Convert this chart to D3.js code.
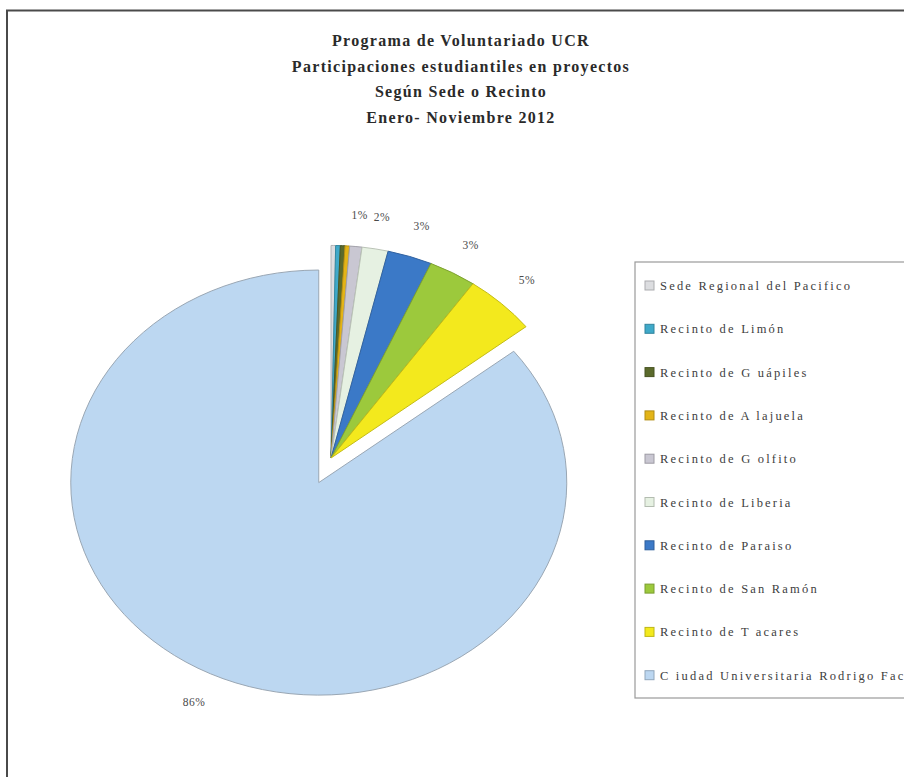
<!DOCTYPE html>
<html><head><meta charset="utf-8">
<script src="https://cdn.jsdelivr.net/npm/d3@7"></script>
<style>body{margin:0;background:#fff} svg{display:block}</style>
</head><body>
<svg id="chart" width="904" height="777"></svg>
<script>
const titleLines = ["Programa de Voluntariado UCR","Participaciones estudiantiles en proyectos","Según Sede o Recinto","Enero- Noviembre 2012"];
const categories = ["Sede Regional del Pacifico","Recinto de Limón","Recinto de G uápiles","Recinto de A lajuela","Recinto de G olfito","Recinto de Liberia","Recinto de Paraiso","Recinto de San Ramón","Recinto de T acares","C iudad Universitaria Rodrigo Facio"];
const values = [0.3, 0.3, 0.3, 0.3, 0.8, 1.7, 2.9, 3.1, 4.7, 85.6];
const colors = ["#dcdde0","#3fa9c9","#5b6a2c","#e3b417","#c9c7d2","#e6f1e2","#3b79c7","#9cc93c","#f3e91d","#bcd7f1"];
const explodedIndex = 9;

const svg = d3.select("#chart");
const serif = "'Liberation Serif', 'Times New Roman', serif";
// outer frame
svg.append("path").attr("d","M7,777V10.5H904").attr("fill","none").attr("stroke","#4a4a4a").attr("stroke-width",2);

// title
const title = svg.append("text").attr("x",461).attr("y",46)
  .attr("text-anchor","middle").attr("font-family",serif)
  .attr("font-weight","bold").attr("font-size",16).attr("letter-spacing",1.3).attr("fill","#2a2a2a");
titleLines.forEach((t,i)=>title.append("tspan").attr("x",461).attr("dy", i===0?0:25.5).text(t));

// pie
const cx = 331, cy = 458, r = 248, sy = 0.857;
const total = d3.sum(values);
const pie = d3.pie().sort(null).value(d=>d)(values);
const arc = d3.arc().innerRadius(0).outerRadius(r);
const g = svg.append("g").attr("transform",`translate(${cx},${cy})`);

function explode(p,i){
  if (i !== explodedIndex) return [0,0];
  const a = (p.startAngle + p.endAngle)/2;
  return [Math.sin(a)*28, -Math.cos(a)*28*sy + 3];
}

pie.forEach((p,i)=>{
  const [ox,oy] = explode(p,i);
  g.append("path")
    .attr("d", arc(p))
    .attr("transform", `translate(${ox},${oy}) scale(1,${sy})`)
    .attr("fill", colors[i])
    .attr("stroke", i===explodedIndex ? "#9aa7b4" : d3.color(colors[i]).darker(0.6))
    .attr("stroke-width", 1)
    .attr("vector-effect","non-scaling-stroke");
});

// labels
pie.forEach((p,i)=>{
  const pct = Math.round(values[i]/total*100);
  if (pct < 1) return;
  const a = (p.startAngle + p.endAngle)/2;
  const f = 1.15;
  const [ox,oy] = explode(p,i);
  const x = cx + ox + Math.sin(a)*r*f;
  const y = cy + oy - Math.cos(a)*r*f*sy;
  svg.append("text").attr("x",x).attr("y",y)
    .attr("text-anchor","middle").attr("dominant-baseline","central")
    .attr("font-family",serif).attr("font-size",11.5).attr("letter-spacing",0.5)
    .attr("fill","#4a4a4a").text(pct + "%");
});

// legend
const lx = 635, ly = 262;
svg.append("rect").attr("x",lx).attr("y",ly).attr("width",300).attr("height",436)
  .attr("fill","#fff").attr("stroke","#9a9a9a").attr("stroke-width",1.2);
const step = 43.3, first = 286;
categories.forEach((c,i)=>{
  const y = first + i*step;
  svg.append("rect").attr("x",645).attr("y",y-5).attr("width",9).attr("height",9)
    .attr("fill",colors[i]).attr("stroke",d3.color(colors[i]).darker(0.7)).attr("stroke-width",1);
  svg.append("text").attr("x",660).attr("y",y).attr("dominant-baseline","central")
    .attr("font-family",serif).attr("font-size",12.5).attr("letter-spacing",2.2)
    .attr("fill","#404040").text(c);
});
</script>
</body></html>
